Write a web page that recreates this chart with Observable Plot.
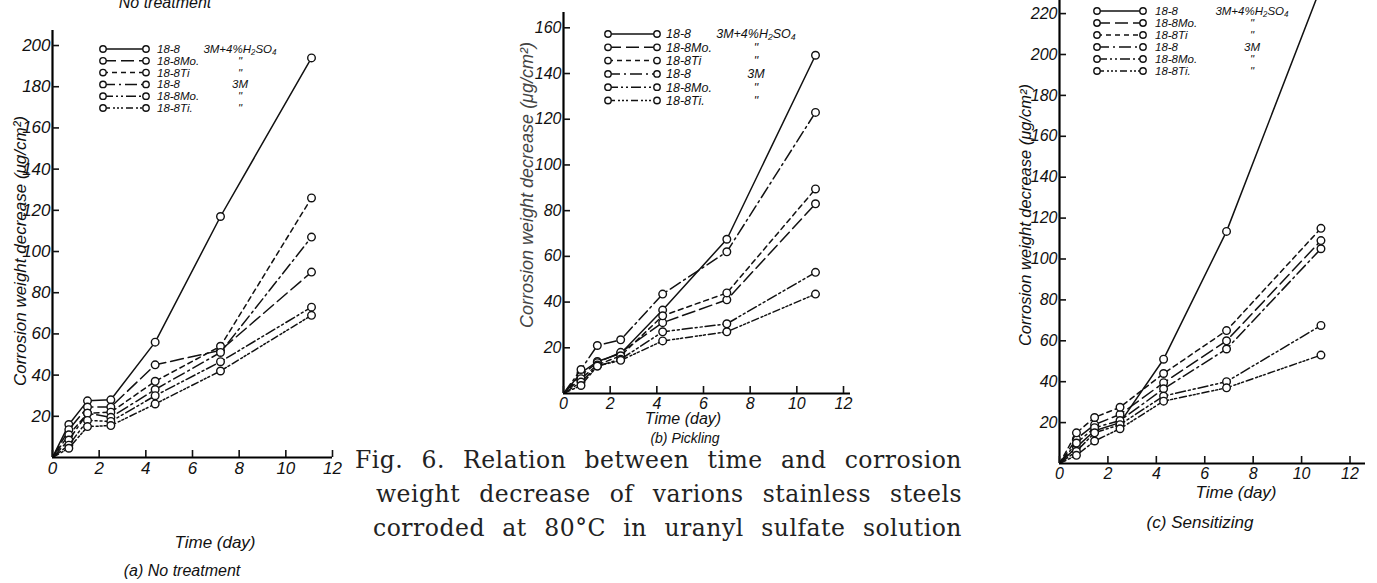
<!DOCTYPE html>
<html><head><meta charset="utf-8">
<script src="https://cdn.jsdelivr.net/npm/d3@7"></script>
<script src="https://cdn.jsdelivr.net/npm/@observablehq/plot@0.6"></script>
<style>
html,body{margin:0;padding:0;background:#fff;}
#root{position:relative;width:1377px;height:583px;overflow:hidden;background:#fff;}
.abs{position:absolute;}
.hand{font-family:"Liberation Sans",Arial,sans-serif;font-style:italic;color:#111;white-space:nowrap;line-height:1;}
.cap{position:absolute;font-family:"DejaVu Serif","Liberation Serif",serif;font-size:23.5px;letter-spacing:0.5px;color:#222;text-align:justify;text-align-last:justify;white-space:nowrap;line-height:1;}
</style></head>
<body><div id="root"></div>
<script>
// ---- legend text ----
const legendAlloy = ["18-8", "18-8Mo.", "18-8Ti", "18-8", "18-8Mo.", "18-8Ti."];
const legendSolution = ["3M+4%H₂SO₄", "\"", "\"", "3M", "\"", "\""];
const xTickValues = [0, 2, 4, 6, 8, 10, 12];

// ---- (a) No treatment ----
const daysA = [0.7, 1.5, 2.5, 4.4, 7.2, 11.1];
const a_SS_acid = [16, 27.5, 28, 56, 117, 194];
const a_Mo_acid = [13.5, 24.5, 24.5, 45, 52, 90];
const a_Ti_acid = [11, 21.5, 22, 37, 54, 126];
const a_SS_3M  = [8.5, 21.5, 19.5, 33, 51, 107];
const a_Mo_3M  = [6, 18, 17.5, 30, 46.5, 73];
const a_Ti_3M  = [4.5, 15, 15.5, 26, 42, 69];
const yTicksA = [20, 40, 60, 80, 100, 120, 140, 160, 180, 200];

// ---- (b) Pickling ----
const daysB = [0.75, 1.45, 2.45, 4.25, 7.0, 10.8];
const b_SS_acid = [9, 14, 17.5, 36.5, 67.5, 148];
const b_Mo_acid = [8, 13.5, 18, 31, 41, 83];
const b_Ti_acid = [6.5, 12.5, 16.5, 34, 44, 89.5];
const b_SS_3M  = [10.5, 21, 23.5, 43.5, 62, 123];
const b_Mo_3M  = [5, 12, 15, 27, 30.5, 53];
const b_Ti_3M  = [3.5, 12, 14.5, 23, 27, 43.5];
const yTicksB = [20, 40, 60, 80, 100, 120, 140, 160];

// ---- (c) Sensitizing ----
const daysC = [0.7, 1.45, 2.5, 4.3, 6.9, 10.8];
const c_SS_acid = [8, 16, 20, 51, 113.5, 233];
const c_Mo_acid = [12, 19, 24, 39.5, 60, 109];
const c_Ti_acid = [15, 22.5, 27.5, 44, 65, 115];
const c_SS_3M  = [10, 17.5, 21, 36.5, 56, 105];
const c_Mo_3M  = [6, 15, 19, 33, 40, 67.5];
const c_Ti_3M  = [4, 11, 17, 30.5, 37, 53];
const yTicksC = [20, 40, 60, 80, 100, 120, 140, 160, 180, 200, 220];

// ---- styles ----
const dashes = [null, "13,5", "5,4", "12,4,2,4", "10,3,2,3,2,3", "7,3,2,2,2,2,2,3"];
const ink = "#111";
const handFont = "'Liberation Sans',Arial,sans-serif";

const panels = [
  {days: daysA, series: [a_SS_acid, a_Mo_acid, a_Ti_acid, a_SS_3M, a_Mo_3M, a_Ti_3M], yTicks: yTicksA,
   left: 0, width: 345, height: 583, mL: 52, mR: 13, mT: 30, mB: 126, xMax: 12, yMax: 207.3, fs: 17,
   leg: {x1: 103, x2: 146, tx: 157, c2: 240, y0: 49, dy: 11.8, fs: 11.5}},
  {days: daysB, series: [b_SS_acid, b_Mo_acid, b_Ti_acid, b_SS_3M, b_Mo_3M, b_Ti_3M], yTicks: yTicksB,
   left: 460, width: 420, height: 460, mL: 103, mR: 30, mT: 12, mB: 67, xMax: 12.3, yMax: 166.7, fs: 16,
   leg: {x1: 608, x2: 657, tx: 666, c2: 756, y0: 34, dy: 13.3, fs: 12.5}},
  {days: daysC, series: [c_SS_acid, c_Mo_acid, c_Ti_acid, c_SS_3M, c_Mo_3M, c_Ti_3M], yTicks: yTicksC,
   left: 985, width: 392, height: 583, mL: 74, mR: 12, mT: 0, mB: 120, xMax: 12.64, yMax: 226.4, fs: 16,
   leg: {x1: 1097, x2: 1143, tx: 1155, c2: 1252, y0: 11, dy: 12, fs: 11.5}}
];

const root = document.getElementById("root");

panels.forEach(p => {
  const marks = [];
  p.series.forEach((vals, i) => {
    const pts = [{t: 0, v: 0}, ...p.days.map((t, j) => ({t, v: vals[j]}))];
    const lineOpts = {x: "t", y: "v", stroke: ink, strokeWidth: 1.5, clip: true};
    if (dashes[i]) lineOpts.strokeDasharray = dashes[i];
    marks.push(Plot.line(pts, lineOpts));
    marks.push(Plot.dot(pts.slice(1), {x: "t", y: "v", r: 3.8, stroke: ink, fill: "white", strokeWidth: 1.4, clip: true}));
  });
  marks.push(Plot.ruleX([0], {stroke: "#000", strokeWidth: 2.2}));
  marks.push(Plot.ruleY([0], {stroke: "#000", strokeWidth: 2.2}));
  marks.push(Plot.axisY(p.yTicks, {tickSize: -7, tickPadding: 9, strokeWidth: 1.6, label: null, tickFormat: d => String(d)}));
  marks.push(Plot.axisX(xTickValues, {tickSize: -7, tickPadding: 11, strokeWidth: 1.6, label: null, tickFormat: d => String(d)}));
  const svg = Plot.plot({
    width: p.width, height: p.height,
    marginLeft: p.mL, marginRight: p.mR, marginTop: p.mT, marginBottom: p.mB,
    x: {domain: [0, p.xMax]},
    y: {domain: [0, p.yMax]},
    style: {background: "transparent", fontFamily: handFont,
            fontSize: p.fs + "px", fontStyle: "italic", color: ink, overflow: "visible"},
    marks
  });
  svg.style.position = "absolute";
  svg.style.left = p.left + "px";
  svg.style.top = "0px";
  root.appendChild(svg);

  // legend
  const L = p.leg;
  const lg = d3.select(root).append("svg").attr("class", "abs")
    .style("left", "0px").style("top", "0px").attr("width", 1377).attr("height", 200)
    .style("overflow", "visible");
  legendAlloy.forEach((name, i) => {
    const y = L.y0 + i * L.dy;
    const ln = lg.append("line").attr("x1", L.x1).attr("x2", L.x2).attr("y1", y).attr("y2", y)
      .attr("stroke", ink).attr("stroke-width", 1.5);
    if (dashes[i]) ln.attr("stroke-dasharray", dashes[i]);
    [L.x1, L.x2].forEach(cx => lg.append("circle").attr("cx", cx).attr("cy", y).attr("r", 3.2)
      .attr("fill", "white").attr("stroke", ink).attr("stroke-width", 1.4));
    lg.append("text").attr("x", L.tx).attr("y", y).attr("dy", "0.35em")
      .attr("font-family", handFont).attr("font-style", "italic")
      .attr("font-size", L.fs).attr("fill", ink).text(name);
    lg.append("text").attr("x", L.c2).attr("y", y).attr("dy", "0.35em").attr("text-anchor", "middle")
      .attr("font-family", handFont).attr("font-style", "italic")
      .attr("font-size", L.fs).attr("fill", ink).text(legendSolution[i]);
  });
});

// text labels
function label(txt, cx, cy, size, rot, color) {
  const d = document.createElement("div");
  d.className = "abs hand";
  d.textContent = txt;
  d.style.left = cx + "px";
  d.style.top = cy + "px";
  d.style.fontSize = size + "px";
  if (color) d.style.color = color;
  d.style.transform = "translate(-50%,-50%)" + (rot ? " rotate(-90deg)" : "");
  root.appendChild(d);
}
label("No treatment", 165, 3, 16, false);
label("Corrosion weight decrease (μg/cm²)", 20, 251, 17, true);
label("Corrosion weight decrease (μg/cm²)", 527, 185, 18, true, "#444");
label("Corrosion weight decrease (μg/cm²)", 1025, 215, 16.5, true);
label("Time (day)", 215, 542, 17, false);
label("(a)   No treatment", 182, 571, 16, false);
label("Time (day)", 683, 419, 16, false);
label("(b)   Pickling", 685, 438, 14, false);
label("Time (day)", 1236, 492, 17, false);
label("(c)   Sensitizing", 1200, 522, 17, false);

// caption
const capLines = [
  ["Fig. 6.  Relation between time and corrosion", 355, 449, 607],
  ["weight decrease of varions stainless steels", 376, 483, 586],
  ["corroded at 80°C in uranyl sulfate solution", 373, 517, 589]
];
capLines.forEach(([t, x, y, w]) => {
  const d = document.createElement("div");
  d.className = "cap";
  d.textContent = t;
  d.style.left = x + "px"; d.style.top = y + "px"; d.style.width = w + "px";
  root.appendChild(d);
});
</script>
</body></html>
